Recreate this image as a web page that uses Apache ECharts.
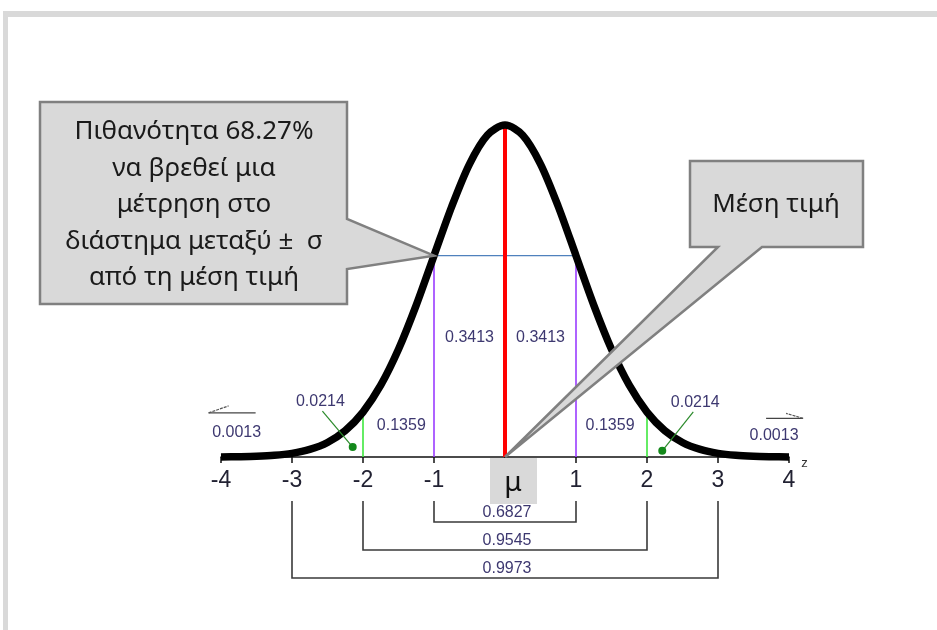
<!DOCTYPE html>
<html>
<head>
<meta charset="utf-8">
<script src="https://cdn.jsdelivr.net/npm/echarts@6/dist/echarts.min.js"></script>
<style>
  html, body { margin: 0; padding: 0; background: #ffffff; }
  #chart { width: 937px; height: 630px; }
</style>
</head>
<body>
<div id="chart"></div>
<script>
// Standard normal density, sampled every quarter of a standard deviation
const zValues = [-4, -3.75, -3.5, -3.25, -3, -2.75, -2.5, -2.25, -2, -1.75, -1.5, -1.25, -1, -0.75, -0.5, -0.25,
                 0, 0.25, 0.5, 0.75, 1, 1.25, 1.5, 1.75, 2, 2.25, 2.5, 2.75, 3, 3.25, 3.5, 3.75, 4];
const density = [0.0001, 0.0004, 0.0009, 0.0020, 0.0044, 0.0091, 0.0175, 0.0317, 0.0540, 0.0863, 0.1295, 0.1826,
                 0.2420, 0.3011, 0.3521, 0.3867, 0.3989, 0.3867, 0.3521, 0.3011, 0.2420, 0.1826, 0.1295, 0.0863,
                 0.0540, 0.0317, 0.0175, 0.0091, 0.0044, 0.0020, 0.0009, 0.0004, 0.0001];

// Axis ticks (z in units of sigma)
const axisTicks = [-4, -3, -2, -1, 0, 1, 2, 3, 4];

// Reference lines: mean, one sigma and two sigma, with the density where they meet the curve
const meanZ = 0;
const peakDensity = 0.3989;
const oneSigmaZ = [-1, 1];
const oneSigmaDensity = 0.2420;
const twoSigmaZ = [-2, 2];
const twoSigmaDensity = 0.0540;

// Probability of each band between the reference lines
const innerBandArea = 0.3413;   // 0..1 sigma
const middleBandArea = 0.1359;  // 1..2 sigma
const outerBandArea = 0.0214;   // 2..3 sigma
const tailArea = 0.0013;        // beyond 3 sigma

// Probability of falling within +/- k sigma
const intervalK = [1, 2, 3];
const intervalProb = [0.6827, 0.9545, 0.9973];

// Callout texts
const spreadNote = ['Πιθανότητα 68.27%', 'να βρεθεί μια', 'μέτρηση στο', 'διάστημα μεταξύ ±  σ', 'από τη μέση τιμή'];
const meanNote = 'Μέση τιμή';
const meanSymbol = 'μ';
const axisName = 'z';

const NUM_COLOR = '#3d3870';
const NUM_FONT = 'Liberation Sans';
const NOTE_FONT = 'Noto Sans';
const CALLOUT_FILL = '#d9d9d9';
const CALLOUT_STROKE = '#808080';

const chart = echarts.init(document.getElementById('chart'), null, { renderer: 'canvas' });

// Vertical segment from the axis up to a given density
function verticalLines(name, xs, top, color, width, z) {
  return {
    type: 'custom',
    name: name,
    silent: true,
    z: z,
    encode: { x: 0, y: 1 },
    data: xs.map(x => [x, top]),
    renderItem: function (params, api) {
      const p0 = api.coord([api.value(0), 0]);
      const p1 = api.coord([api.value(0), api.value(1)]);
      return {
        type: 'line',
        shape: { x1: p0[0], y1: p0[1], x2: p1[0], y2: p1[1] },
        style: { stroke: color, lineWidth: width }
      };
    }
  };
}

chart.setOption({
  animation: false,
  backgroundColor: '#ffffff',
  grid: { left: 221, right: 148, top: 41, bottom: 173, containLabel: false, outerBoundsMode: 'none' },
  xAxis: {
    type: 'value',
    min: axisTicks[0],
    max: axisTicks[axisTicks.length - 1],
    interval: 1,
    name: axisName,
    nameLocation: 'end',
    nameGap: 8,
    nameTextStyle: { color: '#333333', fontSize: 13, fontFamily: NUM_FONT, verticalAlign: 'top', padding: [0, 0, 0, 0] },
    axisLine: { show: true, onZero: false, lineStyle: { color: '#111111', width: 1.5 } },
    axisTick: { show: true, length: 6, lineStyle: { color: '#111111', width: 1.5 } },
    axisLabel: {
      show: true,
      margin: 12,
      color: '#222233',
      fontSize: 23,
      fontFamily: NUM_FONT,
      formatter: v => (v === meanZ ? '' : String(v))
    },
    splitLine: { show: false }
  },
  yAxis: {
    type: 'value',
    min: 0,
    max: 0.5,
    show: false,
    splitLine: { show: false }
  },
  series: [
    {
      type: 'line',
      name: 'one-sigma level',
      silent: true,
      z: 2,
      symbol: 'none',
      data: oneSigmaZ.map(x => [x, oneSigmaDensity]),
      lineStyle: { color: '#4f81bd', width: 1.2 }
    },
    verticalLines('two sigma', twoSigmaZ, twoSigmaDensity, '#3ee83e', 1.6, 3),
    verticalLines('one sigma', oneSigmaZ, oneSigmaDensity, '#9a3cff', 1.6, 3),
    verticalLines('mean', [meanZ], peakDensity, '#ff0000', 4, 3),
    {
      type: 'line',
      name: 'density',
      silent: true,
      z: 5,
      symbol: 'none',
      smooth: 0.3,
      clip: false,
      data: zValues.map((z, i) => [z, density[i]]),
      lineStyle: { color: '#000000', width: 7.5, cap: 'butt', join: 'round' }
    },
    {
      // brackets under the axis for +/- 1, 2, 3 sigma
      type: 'custom',
      name: 'intervals',
      silent: true,
      z: 4,
      clip: false,
      encode: { x: 0, y: 1 },
      data: intervalK.map((k, i) => [k, 0, intervalProb[i], i]),
      renderItem: function (params, api) {
        const k = api.value(0);
        const level = api.value(3);
        const pL = api.coord([-k, 0]);
        const pR = api.coord([k, 0]);
        const top = pL[1] + 44;
        const bottom = pL[1] + 65 + level * 28;
        return {
          type: 'group',
          children: [
            {
              type: 'polyline',
              shape: { points: [[pL[0], top], [pL[0], bottom], [pR[0], bottom], [pR[0], top]] },
              style: { stroke: '#3a3a3a', lineWidth: 1.6, fill: null }
            },
            {
              type: 'text',
              x: (pL[0] + pR[0]) / 2 + 2,
              y: bottom - 9,
              style: {
                text: api.value(2).toFixed(4),
                fill: NUM_COLOR,
                fontSize: 16,
                fontFamily: NUM_FONT,
                align: 'center',
                verticalAlign: 'middle'
              }
            }
          ]
        };
      }
    }
  ]
});

// Annotations placed through the chart's own coordinate conversion
const px = (z, d) => chart.convertToPixel({ gridIndex: 0 }, [z, d]);

function numText(p, value) {
  return {
    type: 'text', x: p[0], y: p[1], z: 20,
    style: { text: value.toFixed(4), fill: NUM_COLOR, fontSize: 16, fontFamily: NUM_FONT, align: 'center', verticalAlign: 'middle' }
  };
}

const graphics = [];

// Light grey frame on the top and left edges
graphics.push({ type: 'rect', z: 1, shape: { x: 3, y: 11, width: 934, height: 6 }, style: { fill: '#d9d9d9' } });
graphics.push({ type: 'rect', z: 1, shape: { x: 3, y: 11, width: 5, height: 619 }, style: { fill: '#d9d9d9' } });

// Band probabilities
[-0.5, 0.5].forEach(z => graphics.push(numText(px(z, 0.144), innerBandArea)));
[-1.46, 1.48].forEach(z => graphics.push(numText(px(z, 0.0375), middleBandArea)));

// 2..3 sigma bands: label, leader and dot
[[-2.6, 0.066, -2.145, 0.012], [2.68, 0.065, 2.215, 0.0075]].forEach(([lz, ld, dz, dd]) => {
  const lp = px(lz, ld);
  const dp = px(dz, dd);
  graphics.push(numText(lp, outerBandArea));
  graphics.push({
    type: 'line', z: 20,
    shape: { x1: lp[0] + (lz < 0 ? 2 : -2), y1: lp[1] + 9, x2: dp[0], y2: dp[1] },
    style: { stroke: '#2a8a2a', lineWidth: 1.2 }
  });
  graphics.push({ type: 'circle', z: 21, shape: { cx: dp[0], cy: dp[1], r: 4 }, style: { fill: '#13881a' } });
});

// Tails beyond 3 sigma with their arrows
const leftTail = px(-3.78, 0.029);
graphics.push(numText(leftTail, tailArea));
graphics.push({
  type: 'line', z: 20,
  shape: { x1: leftTail[0] - 28, y1: leftTail[1] - 20, x2: leftTail[0] + 19, y2: leftTail[1] - 20 },
  style: { stroke: '#444444', lineWidth: 1.2 }
});
graphics.push({
  type: 'line', z: 20,
  shape: { x1: leftTail[0] - 28, y1: leftTail[1] - 20, x2: leftTail[0] - 8, y2: leftTail[1] - 27 },
  style: { stroke: '#555555', lineWidth: 1.2, lineDash: [3, 1] }
});
const rightTail = px(3.79, 0.026);
graphics.push(numText(rightTail, tailArea));
graphics.push({
  type: 'line', z: 20,
  shape: { x1: rightTail[0] - 8, y1: rightTail[1] - 17, x2: rightTail[0] + 29, y2: rightTail[1] - 17 },
  style: { stroke: '#444444', lineWidth: 1.2 }
});
graphics.push({
  type: 'line', z: 20,
  shape: { x1: rightTail[0] + 29, y1: rightTail[1] - 17, x2: rightTail[0] + 12, y2: rightTail[1] - 22 },
  style: { stroke: '#555555', lineWidth: 1.2, lineDash: [3, 1] }
});

// Callout pointing at the curve at -1 sigma
const sigmaTip = px(oneSigmaZ[0], oneSigmaDensity);
graphics.push({
  type: 'polygon', z: 30,
  shape: { points: [[40, 102], [347, 102], [347, 219], sigmaTip, [347, 269], [347, 304], [40, 304]] },
  style: { fill: CALLOUT_FILL, stroke: CALLOUT_STROKE, lineWidth: 2.5, lineJoin: 'miter' }
});
graphics.push({
  type: 'text', z: 31, x: 194, y: 205,
  style: {
    text: spreadNote.join('\n'), fill: '#1a1a1a', fontSize: 26, fontFamily: NOTE_FONT,
    align: 'center', verticalAlign: 'middle', lineHeight: 36.5
  }
});

// Callout pointing at the mean
const meanTip = px(meanZ, 0);
graphics.push({
  type: 'polygon', z: 30,
  shape: { points: [[690, 161], [863, 161], [863, 247], [762, 247], meanTip, [718, 247], [690, 247]] },
  style: { fill: CALLOUT_FILL, stroke: CALLOUT_STROKE, lineWidth: 2.5, lineJoin: 'miter' }
});
graphics.push({
  type: 'text', z: 31, x: 776, y: 205,
  style: { text: meanNote, fill: '#1a1a1a', fontSize: 26, fontFamily: NOTE_FONT, align: 'center', verticalAlign: 'middle' }
});

// Mean symbol under the axis
graphics.push({
  type: 'rect', z: 30,
  shape: { x: meanTip[0] - 15, y: meanTip[1] + 1, width: 47, height: 46 },
  style: { fill: CALLOUT_FILL }
});
graphics.push({
  type: 'text', z: 31, x: meanTip[0] + 8, y: meanTip[1] + 26,
  style: { text: meanSymbol, fill: '#111111', fontSize: 28, fontFamily: NOTE_FONT, align: 'center', verticalAlign: 'middle' }
});

chart.setOption({ graphic: { elements: graphics } });
</script>
</body>
</html>
